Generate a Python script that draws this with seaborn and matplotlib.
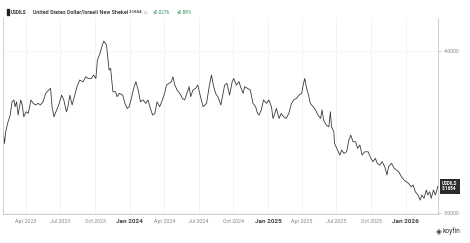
import matplotlib
matplotlib.use("Agg")
import matplotlib.pyplot as plt
import pandas as pd
import seaborn as sns

dates = [
    "2023-01-31", "2023-02-03", "2023-02-06", "2023-02-12", "2023-02-18", "2023-02-23", "2023-02-28",
    "2023-03-03", "2023-03-07", "2023-03-11", "2023-03-18", "2023-03-22", "2023-03-26", "2023-04-01",
    "2023-04-07", "2023-04-14", "2023-04-20", "2023-04-26", "2023-05-03", "2023-05-09", "2023-05-16",
    "2023-05-23", "2023-05-31", "2023-06-05", "2023-06-09", "2023-06-14", "2023-06-21", "2023-06-28",
    "2023-07-04", "2023-07-10", "2023-07-17", "2023-07-21", "2023-07-26", "2023-08-01", "2023-08-08",
    "2023-08-14", "2023-08-21", "2023-08-30", "2023-09-06", "2023-09-12", "2023-09-21", "2023-09-27",
    "2023-10-03", "2023-10-07", "2023-10-14", "2023-10-20", "2023-10-24", "2023-10-31", "2023-11-07",
    "2023-11-11", "2023-11-17", "2023-11-24", "2023-11-28", "2023-12-04", "2023-12-13", "2023-12-19",
    "2023-12-25", "2023-12-30",
    "2024-01-05", "2024-01-11", "2024-01-17", "2024-01-23", "2024-01-29", "2024-02-05", "2024-02-12",
    "2024-02-18", "2024-02-23", "2024-03-01", "2024-03-07", "2024-03-13", "2024-03-20", "2024-03-27",
    "2024-04-02", "2024-04-07", "2024-04-14", "2024-04-20", "2024-04-24", "2024-04-29", "2024-05-05",
    "2024-05-12", "2024-05-19", "2024-05-25", "2024-05-31", "2024-06-06", "2024-06-10", "2024-06-16",
    "2024-06-23", "2024-06-29", "2024-07-06", "2024-07-13", "2024-07-22", "2024-07-29", "2024-08-04",
    "2024-08-10", "2024-08-15", "2024-08-21", "2024-08-29", "2024-09-04", "2024-09-08", "2024-09-14",
    "2024-09-21", "2024-09-28", "2024-10-02", "2024-10-09", "2024-10-16", "2024-10-20", "2024-10-27",
    "2024-10-31", "2024-11-07", "2024-11-15", "2024-11-22", "2024-11-29", "2024-12-04", "2024-12-08",
    "2024-12-14", "2024-12-20", "2024-12-28",
    "2025-01-03", "2025-01-10", "2025-01-14", "2025-01-19", "2025-01-23", "2025-01-30", "2025-02-05",
    "2025-02-11", "2025-02-18", "2025-02-25", "2025-03-04", "2025-03-10", "2025-03-17", "2025-03-24",
    "2025-03-31", "2025-04-04", "2025-04-08", "2025-04-13", "2025-04-17", "2025-04-23", "2025-04-30",
    "2025-05-07", "2025-05-13", "2025-05-20", "2025-05-24", "2025-05-28", "2025-06-04", "2025-06-11",
    "2025-06-15", "2025-06-18", "2025-06-24", "2025-06-26", "2025-07-04", "2025-07-10", "2025-07-15",
    "2025-07-21", "2025-07-28", "2025-08-03", "2025-08-08", "2025-08-14", "2025-08-21", "2025-08-26",
    "2025-09-01", "2025-09-07", "2025-09-14", "2025-09-23", "2025-09-30", "2025-10-06", "2025-10-12",
    "2025-10-17", "2025-10-24", "2025-10-30", "2025-11-06", "2025-11-12", "2025-11-16", "2025-11-24",
    "2025-12-01", "2025-12-07", "2025-12-13", "2025-12-20", "2025-12-27",
    "2026-01-02", "2026-01-08", "2026-01-15", "2026-01-20", "2026-01-26", "2026-02-02", "2026-02-08",
    "2026-02-12", "2026-02-18", "2026-02-24", "2026-02-28", "2026-03-05", "2026-03-09", "2026-03-15",
    "2026-03-20", "2026-03-24", "2026-03-26",
]

values = [
    3.49, 3.43, 3.50, 3.56, 3.605, 3.687, 3.698,
    3.656, 3.687, 3.605, 3.698, 3.667, 3.594, 3.625,
    3.615, 3.698, 3.677, 3.667, 3.677, 3.667, 3.687,
    3.739, 3.759, 3.770, 3.656, 3.594, 3.636, 3.677,
    3.728, 3.698, 3.625, 3.656, 3.728, 3.667, 3.728,
    3.780, 3.821, 3.810, 3.841, 3.831, 3.831, 3.852,
    3.831, 3.944, 3.986, 4.037, 4.062, 4.037, 3.883,
    3.893, 3.749, 3.749, 3.718, 3.739, 3.728, 3.677,
    3.646, 3.656,
    3.708, 3.770, 3.811, 3.759, 3.687, 3.698, 3.677,
    3.698, 3.656, 3.605, 3.615, 3.687, 3.656, 3.698,
    3.739, 3.790, 3.801, 3.811, 3.841, 3.790, 3.759,
    3.739, 3.708, 3.698, 3.739, 3.780, 3.718, 3.759,
    3.770, 3.790, 3.718, 3.656, 3.677, 3.780, 3.852,
    3.780, 3.739, 3.718, 3.667, 3.739, 3.790, 3.801,
    3.728, 3.811, 3.831, 3.790, 3.811, 3.780, 3.739,
    3.780, 3.770, 3.759, 3.677, 3.656, 3.615, 3.605,
    3.636, 3.698, 3.677,
    3.698, 3.656, 3.584, 3.615, 3.646, 3.584, 3.615,
    3.594, 3.584, 3.615, 3.677, 3.698, 3.708, 3.728,
    3.739, 3.790, 3.831, 3.770, 3.739, 3.677, 3.656,
    3.636, 3.605, 3.584, 3.636, 3.574, 3.543, 3.533,
    3.625, 3.533, 3.502, 3.430, 3.389, 3.358, 3.389,
    3.368, 3.378, 3.451, 3.481, 3.440, 3.440, 3.399,
    3.420, 3.358, 3.378, 3.378, 3.338, 3.317, 3.338,
    3.307, 3.296, 3.317, 3.286, 3.235, 3.286, 3.307,
    3.276, 3.265, 3.255, 3.224, 3.204,
    3.193, 3.183, 3.162, 3.173, 3.131, 3.111, 3.080,
    3.111, 3.091, 3.142, 3.111, 3.131, 3.091, 3.142,
    3.111, 3.142, 3.1654,
]

tick_dates = ["2023-04-01", "2023-07-01", "2023-10-01", "2024-01-01", "2024-04-01", "2024-07-01",
              "2024-10-01", "2025-01-01", "2025-04-01", "2025-07-01", "2025-10-01", "2026-01-01"]
tick_labels = ["Apr 2023", "Jul 2023", "Oct 2023", "Jan 2024", "Apr 2024", "Jul 2024",
               "Oct 2024", "Jan 2025", "Apr 2025", "Jul 2025", "Oct 2025", "Jan 2026"]
y_ticks = [3.0, 4.0]

ticker = "USDILS"
name = "United States Dollar/Israeli New Shekel"
last_price = "3.1654"
currency = "ILS"
change = "+0.0276"
change_pct = "+0.88%"

sns.set_style("white")
plt.rcParams["font.family"] = ["Roboto", "DejaVu Sans"]

df = pd.DataFrame({"date": pd.to_datetime(dates), "value": values})

W, H = 470, 243
fig = plt.figure(figsize=(W / 100, H / 100), dpi=100)
ax = fig.add_axes([3 / W, 1 - 214 / H, 435 / W, 196 / H])

sns.lineplot(data=df, x="date", y="value", ax=ax, color="#3a3a3a", linewidth=0.6)

ax.set_xlim(pd.Timestamp("2023-01-30"), pd.Timestamp("2026-03-27"))
ax.set_ylim(2.994, 4.204)
ax.set_xlabel("")
ax.set_ylabel("")

ax.set_xticks(pd.to_datetime(tick_dates))
ax.set_xticklabels(tick_labels)
for lbl in ax.get_xticklabels():
    if lbl.get_text().startswith("Jan"):
        lbl.set_fontsize(4.6)
        lbl.set_color("#444444")
        lbl.set_fontweight("bold")
    else:
        lbl.set_fontsize(3.8)
        lbl.set_color("#888888")
ax.tick_params(axis="x", length=1.5, width=0.4, color="#aaaaaa", pad=2)

ax.yaxis.tick_right()
ax.set_yticks(y_ticks)
ax.set_yticklabels([f"{v:.4f}" for v in y_ticks])
ax.tick_params(axis="y", length=2, width=0.4, color="#999999", labelsize=3.8,
               labelcolor="#888888", pad=2)

ax.grid(True, axis="x", color="#eeeeee", linewidth=0.5)
ax.grid(True, axis="y", color="#f3f3f3", linewidth=0.5)
for side in ["left", "right", "bottom"]:
    ax.spines[side].set_color("#c8c8c8")
    ax.spines[side].set_linewidth(0.6)
ax.spines["top"].set_visible(False)

# header
fig.patches.append(plt.Rectangle((7.2 / W, 1 - 15.5 / H), 1.4 / W, 6.5 / H,
                                 transform=fig.transFigure, color="#222222"))
hy = 1 - 12.3 / H
fig.text(11 / W, hy, ticker, fontsize=3.4, fontweight="bold", color="#333333", va="center")
fig.text(32.7 / W, hy, name, fontsize=3.85, fontweight="bold", color="#444444", va="center")
fig.text(129.3 / W, hy, last_price, fontsize=3.1, fontweight="bold", color="#333333", va="center")
fig.text(143.5 / W, hy - 0.3 / H, currency, fontsize=2.2, color="#888888", va="center")
fig.text(153.3 / W, hy, change, fontsize=3.4, color="#2e8b57", va="center")
fig.text(177.3 / W, hy, change_pct, fontsize=3.4, color="#2e8b57", va="center")

# last price tag
ax.annotate(f"{ticker}\n{last_price}", xy=(1.0, values[-1]), xycoords=("axes fraction", "data"),
            xytext=(3, 0), textcoords="offset points", fontsize=3.3, color="white",
            fontweight="bold", ha="left", va="center", linespacing=1.1,
            bbox=dict(boxstyle="square,pad=0.5", fc="#2b2b2b", ec="none"))

# logo
fig.text(439 / W, 1 - 231.5 / H, "\u25C8", fontsize=5.5, color="#333333", ha="center", va="center",
         family=["DejaVu Sans"])
fig.text(442.5 / W, 1 - 231 / H, "koyfin", fontsize=4.8, color="#333333", ha="left", va="center")

fig.savefig("out.png", dpi=100)
